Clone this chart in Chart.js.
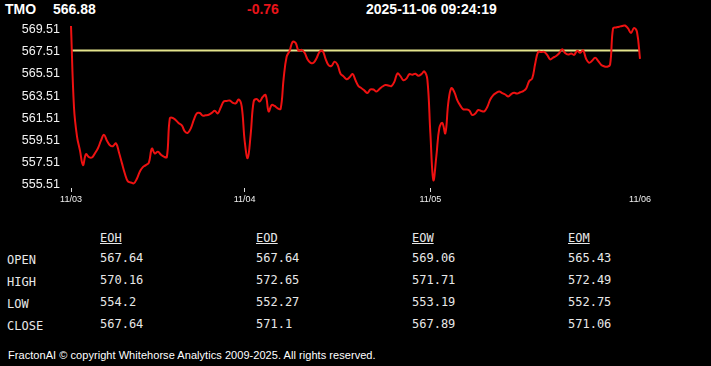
<!DOCTYPE html>
<html>
<head>
<meta charset="utf-8">
<script src="https://cdn.jsdelivr.net/npm/chart.js@4"></script>
<style>
  html, body { margin: 0; padding: 0; background: #000; width: 711px; height: 366px; overflow: hidden; }
  #chart { position: absolute; left: 0; top: 2px; }
  .hdr { position: absolute; top: 1px; font: bold 14px "Liberation Sans", Arial, sans-serif; line-height: 16px; color: #fff; white-space: nowrap; }
  .cell { position: absolute; font: 12px "DejaVu Sans Mono", monospace; line-height: 14px; color: #e8e8e8; white-space: nowrap; }
  .cell.head { text-decoration: underline; }
  #foot { position: absolute; left: 8px; top: 348px; font: 11px "Liberation Sans", Arial, sans-serif; line-height: 14px; color: #fff; letter-spacing: 0.05px; white-space: nowrap; }
</style>
</head>
<body>
<div class="hdr" style="left:5px">TMO</div>
<div class="hdr" style="left:53px">566.88</div>
<div class="hdr" style="left:247px;color:#e8141a">-0.76</div>
<div class="hdr" style="left:366px">2025-11-06 09:24:19</div>
<canvas id="chart" width="711" height="212"></canvas>
<div id="table"></div>
<div id="foot">FractonAI © copyright Whitehorse Analytics 2009-2025. All rights reserved.</div>
<script>
// Fiyat serisi (okunan değerler)
const prices = [
  569.85, 562.48, 559.87, 558.57, 557.26, 558.25, 557.98, 557.95, 558.34, 558.79,
  559.47, 560.00, 559.47, 559.06, 558.97, 559.24, 558.43, 557.44, 556.48, 555.79,
  555.69, 555.62, 556.03, 556.68, 557.08, 557.26, 557.49, 558.75, 558.31, 558.48,
  558.21, 558.03, 557.98, 561.49, 561.53, 561.33, 561.04, 560.86, 560.32, 560.18,
  560.59, 561.35, 561.94, 561.98, 561.74, 561.77, 561.82, 561.98, 562.18, 561.94,
  562.48, 563.02, 563.06, 563.11, 562.90, 562.84, 563.20, 562.57, 559.42, 557.89,
  560.05, 563.02, 563.24, 563.02, 563.42, 563.60, 562.12, 562.70, 562.61, 562.40,
  562.35, 565.09, 567.06, 567.60, 568.41, 568.32, 567.60, 567.69, 567.42, 566.82,
  566.52, 566.52, 566.93, 567.51, 567.60, 566.88, 566.30, 566.25, 566.61, 566.34,
  565.53, 565.29, 565.03, 565.20, 565.51, 564.94, 564.41, 564.22, 564.00, 563.79,
  564.11, 564.10, 563.92, 564.14, 564.37, 564.51, 564.47, 564.41, 564.82, 565.56,
  565.31, 564.94, 565.09, 565.49, 565.44, 565.53, 565.35, 565.49, 565.74, 564.99,
  560.14, 555.90, 558.07, 560.63, 561.08, 560.14, 562.93, 564.23, 563.87, 563.12,
  562.64, 562.30, 562.30, 562.21, 561.79, 561.94, 562.25, 562.16, 562.12, 562.52,
  563.20, 563.60, 563.80, 563.92, 563.78, 563.65, 563.47, 563.69, 563.80, 563.73,
  563.85, 563.95, 564.19, 564.86, 565.10, 566.43, 567.51, 567.49, 567.51, 567.24,
  566.83, 566.99, 567.13, 567.38, 567.74, 567.40, 567.26, 567.35, 567.24, 567.60,
  567.42, 567.65, 566.88, 566.52, 566.70, 566.97, 566.70, 566.34, 566.20, 566.16,
  566.34, 569.63, 569.72, 569.78, 569.85, 569.89, 569.63, 569.22, 569.67, 569.31,
  566.88
];
const dayLabels = ['11/03', '11/04', '11/05', '11/06'];
const dayStarts = [0, 58, 120, 190];
const refLevel = 567.64;
const yTicks = [555.51, 557.51, 559.51, 561.51, 563.51, 565.51, 567.51, 569.51];
const yMin = 555.19, yMax = 570.21;

// Tablo verisi
const tableCols = ['EOH', 'EOD', 'EOW', 'EOM'];
const tableRows = ['OPEN', 'HIGH', 'LOW', 'CLOSE'];
const eohVals = ['567.64', '570.16', '554.2', '567.64'];
const eodVals = ['567.64', '572.65', '552.27', '571.1'];
const eowVals = ['569.06', '571.71', '553.19', '567.89'];
const eomVals = ['565.43', '572.49', '552.75', '571.06'];

const labels = prices.map((_, i) => {
  const k = dayStarts.indexOf(i);
  return k >= 0 ? dayLabels[k] : '';
});
const lastIdx = prices.length - 1;

new Chart(document.getElementById('chart'), {
  type: 'line',
  data: {
    labels,
    datasets: [
      {
        data: prices,
        borderColor: '#ee1111',
        borderWidth: 2,
        pointRadius: 0,
        tension: 0.4,
        order: 0
      },
      {
        data: prices.map(() => refLevel),
        borderColor: '#e4e48c',
        borderWidth: 2,
        pointRadius: 0,
        tension: 0,
        order: 1
      }
    ]
  },
  options: {
    responsive: false,
    animation: false,
    devicePixelRatio: 1,
    layout: { padding: { top: 20, right: 71, left: 0, bottom: 0 } },
    plugins: { legend: { display: false }, tooltip: { enabled: false } },
    scales: {
      x: {
        type: 'category',
        offset: false,
        afterBuildTicks: (s) => { s.ticks = s.ticks.filter(t => dayStarts.includes(t.value)); },
        afterFit: (s) => { s.height = 26; },
        border: { display: false },
        grid: {
          display: true, drawOnChartArea: false, drawTicks: true, tickLength: 4,
          color: (c) => (c.tick && c.tick.value === lastIdx) ? 'rgba(0,0,0,0)' : '#dddddd'
        },
        ticks: {
          autoSkip: false, maxRotation: 0, padding: 2, color: '#f0f0f0',
          font: { family: '"Liberation Sans", Arial, sans-serif', size: 9 }
        }
      },
      y: {
        min: yMin,
        max: yMax,
        afterBuildTicks: (s) => { s.ticks = yTicks.map(v => ({ value: v })); },
        afterFit: (s) => { s.width = 71; },
        border: { display: false },
        grid: { display: false, drawTicks: false },
        ticks: {
          padding: 11, color: '#f2f2f2',
          font: { family: '"Liberation Sans", Arial, sans-serif', size: 12.5 },
          callback: (v) => Number(v).toFixed(2)
        }
      }
    }
  }
});

// Tablo
const colX = [100, 256, 412, 568];
const rowTop = [251, 273, 295, 317];
const colVals = [eohVals, eodVals, eowVals, eomVals];
const tbl = document.getElementById('table');
function addCell(txt, x, y, head) {
  const d = document.createElement('div');
  d.className = 'cell' + (head ? ' head' : '');
  d.style.left = x + 'px';
  d.style.top = y + 'px';
  d.textContent = txt;
  tbl.appendChild(d);
}
tableCols.forEach((c, j) => addCell(c, colX[j], 231, true));
tableRows.forEach((r, i) => {
  addCell(r, 7, rowTop[i] + 2, false);
  colVals.forEach((vals, j) => addCell(vals[i], colX[j], rowTop[i], false));
});
</script>
</body>
</html>
